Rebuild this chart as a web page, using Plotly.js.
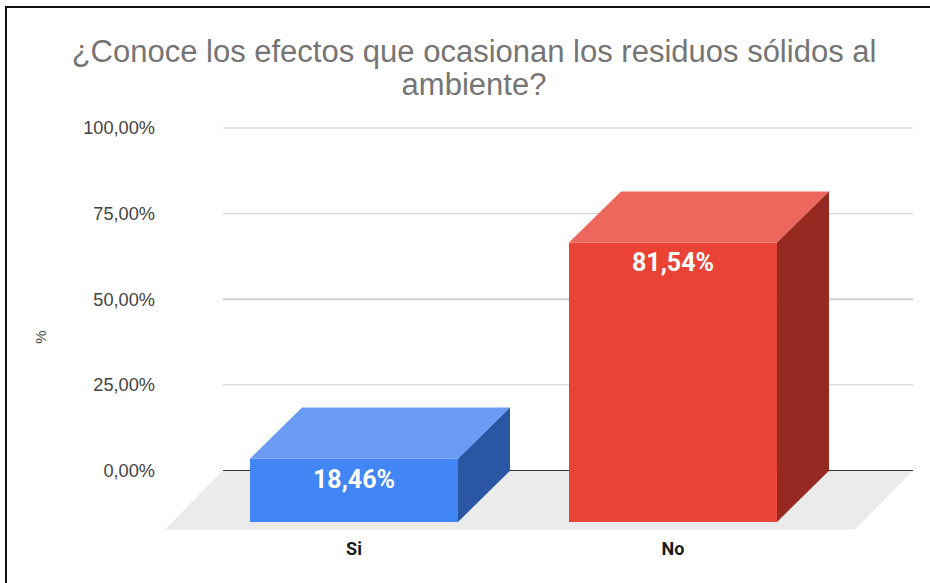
<!DOCTYPE html>
<html>
<head>
<meta charset="utf-8">
<script src="https://cdn.plot.ly/plotly-3.0.1.min.js"></script>
<style>
html,body{margin:0;padding:0;background:#fff;overflow:hidden}
#chart{position:absolute;left:0;top:0;width:930px;height:583px}
#frame{position:absolute;left:5px;top:6px;width:940px;height:590px;border:2px solid #111;pointer-events:none}
</style>
</head>
<body>
<div id="chart"></div>
<div id="frame"></div>
<script>
const categories = ['Si', 'No'];
const values = [18.46, 81.54];
const valueLabels = ['18,46%', '81,54%'];
const tickVals = [0, 25, 50, 75, 100];
const tickLabels = ['0,00%', '25,00%', '50,00%', '75,00%', '100,00%'];
const frontColors = ['#4285f4', '#ea4335'];
const topColors = ['#6a9cf6', '#ee675c'];
const sideColors = ['#2a56a4', '#962a22'];

// pseudo-3D geometry, in axis units
const barWidth = 0.652, depthX = 0.163, depthY = 14.9, base = -15, labelDrop = 6.6;
const positions = categories.map((_, i) => i);

const traces = [{
  type: 'bar', x: positions, y: values, base: base, width: barWidth,
  marker: {color: frontColors, line: {width: 0}}, hoverinfo: 'skip', showlegend: false
}];

categories.forEach((c, i) => {
  const l = i - barWidth / 2, r = i + barWidth / 2, b = base, t = base + values[i];
  traces.push({
    type: 'scatter', mode: 'none', fill: 'toself', fillcolor: topColors[i], hoverinfo: 'skip', showlegend: false,
    x: [l, r, r + depthX, l + depthX, l], y: [t, t, t + depthY, t + depthY, t]
  });
  traces.push({
    type: 'scatter', mode: 'none', fill: 'toself', fillcolor: sideColors[i], hoverinfo: 'skip', showlegend: false,
    x: [r, r + depthX, r + depthX, r, r], y: [b, b + depthY, t + depthY, t, b]
  });
});

traces.push({
  type: 'scatter', mode: 'text', x: positions, y: values.map(v => base + v - labelDrop),
  text: valueLabels, textposition: 'middle center',
  textfont: {family: 'Roboto, sans-serif', size: 25, color: '#ffffff', weight: 700},
  hoverinfo: 'skip', showlegend: false
});

const xL = -0.5925, xR = 1.7524, xGrid = -0.4107, xFloorR = 1.5705, yFloor = -17.2;
const shapes = [{
  type: 'path', xref: 'x', yref: 'y', layer: 'below', fillcolor: '#ebebeb', line: {width: 0},
  path: `M ${xL} ${yFloor} L ${xGrid} 0 L ${xR} 0 L ${xFloorR} ${yFloor} Z`
}].concat(tickVals.map(v => ({
  type: 'line', xref: 'x', yref: 'y', layer: 'below', x0: xGrid, x1: xR, y0: v, y1: v,
  line: {color: v === 0 ? '#333333' : '#cfcfcf', width: v === 50 ? 2 : 1}
})));

const layout = {
  width: 930, height: 583,
  margin: {l: 165, r: 17, t: 114, b: 23},
  paper_bgcolor: '#ffffff', plot_bgcolor: '#ffffff',
  showlegend: false,
  title: {
    text: '¿Conoce los efectos que ocasionan los residuos sólidos al<br>ambiente?',
    font: {family: '"Liberation Sans", Arial, sans-serif', size: 31, color: '#757575'},
    x: 474 / 930, xanchor: 'center', xref: 'container',
    y: 1 - 62 / 583, yanchor: 'top', yref: 'container'
  },
  xaxis: {
    type: 'linear', range: [xL, xR], tickmode: 'array', tickvals: positions, ticktext: categories,
    showgrid: false, zeroline: false, showline: false, ticks: '', ticklabelstandoff: -24,
    tickfont: {family: 'Roboto, sans-serif', size: 18, color: '#1a1a1a', weight: 700}
  },
  yaxis: {
    range: [-26.13, 104.09], tickmode: 'array', tickvals: tickVals, ticktext: tickLabels,
    showgrid: false, zeroline: false, showline: false, ticks: '', ticklabelstandoff: 9,
    tickfont: {family: '"Liberation Sans", Arial, sans-serif', size: 18.2, color: '#444444'},
    title: {text: '%', standoff: 32, font: {family: '"Liberation Sans", Arial, sans-serif', size: 15, color: '#444444'}}
  },
  shapes: shapes
};

Plotly.newPlot('chart', traces, layout, {displayModeBar: false, staticPlot: true}).then(gd => {
  // the reference title has a tight line spacing
  gd.querySelectorAll('.gtitle tspan.line').forEach((t, i) => {
    if (i > 0) t.setAttribute('dy', '1.06em');
  });
});
</script>
</body>
</html>
